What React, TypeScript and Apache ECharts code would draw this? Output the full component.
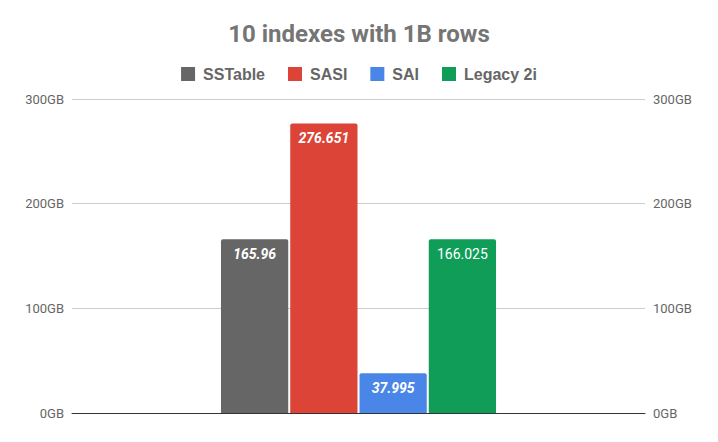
import React, { useEffect, useRef } from "react";
import * as echarts from "echarts";

const seriesNames = ["SSTable", "SASI", "SAI", "Legacy 2i"];
const seriesValues = [165.96, 276.651, 37.995, 166.025];
const seriesColors = ["#666666", "#db4437", "#4a86e8", "#0f9d58"];
const italicLabels = [true, true, true, false];
const categories = [""];
const yTicks = { min: 0, max: 300, interval: 100 };

export default function App() {
  const ref = useRef<HTMLDivElement>(null);
  useEffect(() => {
    const chart = echarts.init(ref.current!, null, { renderer: "svg" });
    const font = "Roboto, 'Noto Sans', sans-serif";
    const axisLabel = {
      formatter: (v: number) => `${v}GB`,
      color: "#666",
      fontSize: 13,
      fontFamily: font,
      margin: 8,
    };
    chart.setOption({
      animation: false,
      textStyle: { fontFamily: font },
      title: {
        text: "10 indexes with 1B rows",
        left: "center",
        top: 17,
        textStyle: { fontSize: 24, fontWeight: "bold", color: "#757575", fontFamily: font },
      },
      legend: {
        data: seriesNames,
        top: 61,
        left: "center",
        itemWidth: 14,
        itemHeight: 14,
        itemGap: 23,
        icon: "rect",
        textStyle: {
          fontSize: 16,
          fontWeight: "bold",
          color: "#666",
          fontFamily: "'Liberation Sans', Arial, sans-serif",
          padding: [0, 0, 0, 3],
        },
      },
      grid: { left: 72, right: 73, top: 99, bottom: 29, containLabel: false },
      xAxis: {
        type: "category",
        data: categories,
        axisLine: { lineStyle: { color: "#333", width: 1 } },
        axisTick: { show: false },
        axisLabel: { show: false },
      },
      yAxis: [
        {
          type: "value",
          ...yTicks,
          axisLabel,
          splitLine: { lineStyle: { color: "#cccccc" } },
          axisLine: { show: false },
          axisTick: { show: false },
        },
        {
          type: "value",
          position: "right",
          ...yTicks,
          axisLabel,
          splitLine: { show: false },
          axisLine: { show: false },
          axisTick: { show: false },
        },
      ],
      series: seriesNames.map((name, i) => ({
        name,
        type: "bar",
        data: [seriesValues[i]],
        barGap: "3%",
        barCategoryGap: "52%",
        itemStyle: { color: seriesColors[i], borderRadius: [2, 2, 0, 0] },
        label: {
          show: true,
          position: "insideTop",
          distance: 8,
          color: "#fff",
          fontSize: 14,
          fontFamily: font,
          fontStyle: italicLabels[i] ? "italic" : "normal",
          fontWeight: italicLabels[i] ? "bold" : "normal",
        },
      })),
    });
    return () => chart.dispose();
  }, []);
  return <div ref={ref} style={{ width: 718, height: 442, position: "absolute", left: 0, top: 0 }} />;
}
